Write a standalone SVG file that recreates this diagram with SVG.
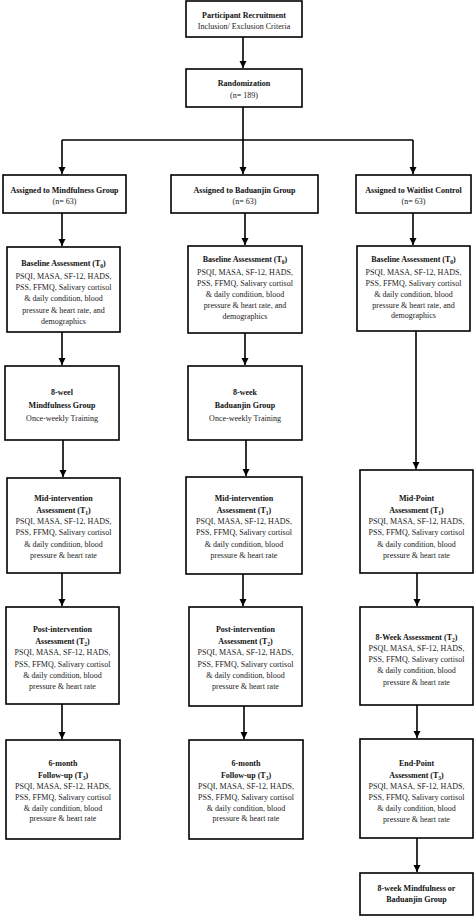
<svg xmlns="http://www.w3.org/2000/svg" width="474" height="917" viewBox="0 0 474 917">
<style>
.bx{fill:#fff;stroke:#000;stroke-width:1.6}
text{font-family:"Liberation Serif","Times New Roman",serif;font-size:8px;fill:#222;text-anchor:middle}
.h{font-weight:bold;fill:#111}
.ln{stroke:#000;stroke-width:1.6;fill:none}
.sub{font-size:5.5px}
</style>
<defs>
<marker id="ah" markerUnits="userSpaceOnUse" markerWidth="8" markerHeight="8" refX="7" refY="4" orient="auto">
<path d="M0,0.5 L7,4 L0,7.5 z" fill="#000"/>
</marker>
</defs>
<rect width="474" height="917" fill="#fff"/>
<g id="connectors">
<line class="ln" x1="243" y1="37" x2="243" y2="68" marker-end="url(#ah)"/>
<polyline class="ln" points="243,107 243,140"/>
<line class="ln" x1="62" y1="140" x2="413" y2="140"/>
<line class="ln" x1="62" y1="140" x2="62" y2="174" marker-end="url(#ah)"/>
<line class="ln" x1="243" y1="140" x2="243" y2="174" marker-end="url(#ah)"/>
<line class="ln" x1="413" y1="140" x2="413" y2="174" marker-end="url(#ah)"/>
<line class="ln" x1="62" y1="213" x2="62" y2="246" marker-end="url(#ah)"/>
<line class="ln" x1="245" y1="213" x2="245" y2="245" marker-end="url(#ah)"/>
<line class="ln" x1="413" y1="213" x2="413" y2="245" marker-end="url(#ah)"/>
<line class="ln" x1="62" y1="332" x2="62" y2="365" marker-end="url(#ah)"/>
<line class="ln" x1="245" y1="333" x2="245" y2="365" marker-end="url(#ah)"/>
<line class="ln" x1="416" y1="331" x2="416" y2="469" marker-end="url(#ah)"/>
<line class="ln" x1="63" y1="440" x2="63" y2="477" marker-end="url(#ah)"/>
<line class="ln" x1="246" y1="440" x2="246" y2="476" marker-end="url(#ah)"/>
<line class="ln" x1="62" y1="573" x2="62" y2="606" marker-end="url(#ah)"/>
<line class="ln" x1="243" y1="574" x2="243" y2="606" marker-end="url(#ah)"/>
<line class="ln" x1="417" y1="573" x2="417" y2="606" marker-end="url(#ah)"/>
<line class="ln" x1="62" y1="704" x2="62" y2="739" marker-end="url(#ah)"/>
<line class="ln" x1="244" y1="706" x2="244" y2="739" marker-end="url(#ah)"/>
<line class="ln" x1="417" y1="705" x2="417" y2="738" marker-end="url(#ah)"/>
<line class="ln" x1="417" y1="838" x2="417" y2="872" marker-end="url(#ah)"/>
</g>
<g id="recruitment">
<rect class="bx" x="186" y="1" width="116" height="36"/>
<text class="h" x="244" y="18">Participant Recruitment</text>
<text x="244" y="29">Inclusion/ Exclusion Criteria</text>
</g>
<g id="randomization">
<rect class="bx" x="186" y="69" width="116" height="38"/>
<text class="h" x="244" y="86">Randomization</text>
<text x="244" y="98">(n= 189)</text>
</g>
<g id="assign-mindfulness">
<rect class="bx" x="3" y="175" width="123" height="38"/>
<text class="h" x="64.5" y="193">Assigned to Mindfulness Group</text>
<text x="64.5" y="204">(n= 63)</text>
</g>
<g id="assign-baduanjin">
<rect class="bx" x="171" y="175" width="147" height="38"/>
<text class="h" x="244.5" y="193">Assigned to Baduanjin Group</text>
<text x="244.5" y="204">(n= 63)</text>
</g>
<g id="assign-waitlist">
<rect class="bx" x="356" y="175" width="115" height="38"/>
<text class="h" x="413.5" y="193">Assigned to Waitlist Control</text>
<text x="413.5" y="204">(n= 63)</text>
</g>
<g id="baseline-mindfulness">
<rect class="bx" x="7" y="247" width="113" height="85"/>
<text class="h" x="63.5" y="266">Baseline Assessment (T<tspan class="sub" dy="1.5">0</tspan><tspan dy="-1.5">)</tspan></text>
<text x="63.5" y="279">PSQI, MASA, SF-12, HADS,</text>
<text x="63.5" y="290">PSS, FFMQ, Salivary cortisol</text>
<text x="63.5" y="301">&amp; daily condition, blood</text>
<text x="63.5" y="313">pressure &amp; heart rate, and</text>
<text x="63.5" y="324">demographics</text>
</g>
<g id="baseline-baduanjin">
<rect class="bx" x="188" y="246" width="114" height="87"/>
<text class="h" x="245" y="262">Baseline Assessment (T<tspan class="sub" dy="1.5">0</tspan><tspan dy="-1.5">)</tspan></text>
<text x="245" y="275">PSQI, MASA, SF-12, HADS,</text>
<text x="245" y="286">PSS, FFMQ, Salivary cortisol</text>
<text x="245" y="297">&amp; daily condition, blood</text>
<text x="245" y="308">pressure &amp; heart rate, and</text>
<text x="245" y="319">demographics</text>
</g>
<g id="baseline-waitlist">
<rect class="bx" x="357" y="246" width="113" height="85"/>
<text class="h" x="413.5" y="262">Baseline Assessment (T<tspan class="sub" dy="1.5">0</tspan><tspan dy="-1.5">)</tspan></text>
<text x="413.5" y="275">PSQI, MASA, SF-12, HADS,</text>
<text x="413.5" y="286">PSS, FFMQ, Salivary cortisol</text>
<text x="413.5" y="297">&amp; daily condition, blood</text>
<text x="413.5" y="308">pressure &amp; heart rate, and</text>
<text x="413.5" y="318">demographics</text>
</g>
<g id="training-mindfulness">
<rect class="bx" x="5" y="366" width="114" height="74"/>
<text class="h" x="62" y="395">8-weel</text>
<text class="h" x="62" y="408">Mindfulness Group</text>
<text x="62" y="421">Once-weekly Training</text>
</g>
<g id="training-baduanjin">
<rect class="bx" x="188" y="366" width="114" height="74"/>
<text class="h" x="245" y="395">8-week</text>
<text class="h" x="245" y="408">Baduanjin Group</text>
<text x="245" y="421">Once-weekly Training</text>
</g>
<g id="mid-mindfulness">
<rect class="bx" x="7" y="478" width="113" height="95"/>
<text class="h" x="63.5" y="501">Mid-intervention</text>
<text class="h" x="63.5" y="513">Assessment (T<tspan class="sub" dy="1.5">1</tspan><tspan dy="-1.5">)</tspan></text>
<text x="63.5" y="524">PSQI, MASA, SF-12, HADS,</text>
<text x="63.5" y="535">PSS, FFMQ, Salivary cortisol</text>
<text x="63.5" y="547">&amp; daily condition, blood</text>
<text x="63.5" y="558">pressure &amp; heart rate</text>
</g>
<g id="mid-baduanjin">
<rect class="bx" x="186" y="477" width="116" height="97"/>
<text class="h" x="244" y="501">Mid-intervention</text>
<text class="h" x="244" y="513">Assessment (T<tspan class="sub" dy="1.5">1</tspan><tspan dy="-1.5">)</tspan></text>
<text x="244" y="524">PSQI, MASA, SF-12, HADS,</text>
<text x="244" y="535">PSS, FFMQ, Salivary cortisol</text>
<text x="244" y="547">&amp; daily condition, blood</text>
<text x="244" y="558">pressure &amp; heart rate</text>
</g>
<g id="mid-waitlist">
<rect class="bx" x="360" y="470" width="113" height="103"/>
<text class="h" x="416.5" y="501">Mid-Point</text>
<text class="h" x="416.5" y="513">Assessment (T<tspan class="sub" dy="1.5">1</tspan><tspan dy="-1.5">)</tspan></text>
<text x="416.5" y="524">PSQI, MASA, SF-12, HADS,</text>
<text x="416.5" y="535">PSS, FFMQ, Salivary cortisol</text>
<text x="416.5" y="547">&amp; daily condition, blood</text>
<text x="416.5" y="558">pressure &amp; heart rate</text>
</g>
<g id="post-mindfulness">
<rect class="bx" x="6" y="607" width="113" height="97"/>
<text class="h" x="62.5" y="632">Post-intervention</text>
<text class="h" x="62.5" y="644">Assessment (T<tspan class="sub" dy="1.5">2</tspan><tspan dy="-1.5">)</tspan></text>
<text x="62.5" y="655">PSQI, MASA, SF-12, HADS,</text>
<text x="62.5" y="667">PSS, FFMQ, Salivary cortisol</text>
<text x="62.5" y="678">&amp; daily condition, blood</text>
<text x="62.5" y="689">pressure &amp; heart rate</text>
</g>
<g id="post-baduanjin">
<rect class="bx" x="189" y="607" width="113" height="99"/>
<text class="h" x="245.5" y="632">Post-intervention</text>
<text class="h" x="245.5" y="644">Assessment (T<tspan class="sub" dy="1.5">2</tspan><tspan dy="-1.5">)</tspan></text>
<text x="245.5" y="655">PSQI, MASA, SF-12, HADS,</text>
<text x="245.5" y="667">PSS, FFMQ, Salivary cortisol</text>
<text x="245.5" y="678">&amp; daily condition, blood</text>
<text x="245.5" y="689">pressure &amp; heart rate</text>
</g>
<g id="week8-waitlist">
<rect class="bx" x="360" y="607" width="113" height="98"/>
<text class="h" x="416.5" y="640">8-Week Assessment (T<tspan class="sub" dy="1.5">2</tspan><tspan dy="-1.5">)</tspan></text>
<text x="416.5" y="651">PSQI, MASA, SF-12, HADS,</text>
<text x="416.5" y="662">PSS, FFMQ, Salivary cortisol</text>
<text x="416.5" y="673">&amp; daily condition, blood</text>
<text x="416.5" y="685">pressure &amp; heart rate</text>
</g>
<g id="followup-mindfulness">
<rect class="bx" x="6" y="740" width="114" height="99"/>
<text class="h" x="63" y="766">6-month</text>
<text class="h" x="63" y="778">Follow-up (T<tspan class="sub" dy="1.5">3</tspan><tspan dy="-1.5">)</tspan></text>
<text x="63" y="789">PSQI, MASA, SF-12, HADS,</text>
<text x="63" y="800">PSS, FFMQ, Salivary cortisol</text>
<text x="63" y="811">&amp; daily condition, blood</text>
<text x="63" y="821">pressure &amp; heart rate</text>
</g>
<g id="followup-baduanjin">
<rect class="bx" x="189" y="740" width="114" height="99"/>
<text class="h" x="246" y="766">6-month</text>
<text class="h" x="246" y="778">Follow-up (T<tspan class="sub" dy="1.5">3</tspan><tspan dy="-1.5">)</tspan></text>
<text x="246" y="789">PSQI, MASA, SF-12, HADS,</text>
<text x="246" y="800">PSS, FFMQ, Salivary cortisol</text>
<text x="246" y="811">&amp; daily condition, blood</text>
<text x="246" y="821">pressure &amp; heart rate</text>
</g>
<g id="endpoint-waitlist">
<rect class="bx" x="360" y="739" width="113" height="99"/>
<text class="h" x="416.5" y="766">End-Point</text>
<text class="h" x="416.5" y="778">Assessment (T<tspan class="sub" dy="1.5">3</tspan><tspan dy="-1.5">)</tspan></text>
<text x="416.5" y="789">PSQI, MASA, SF-12, HADS,</text>
<text x="416.5" y="800">PSS, FFMQ, Salivary cortisol</text>
<text x="416.5" y="811">&amp; daily condition, blood</text>
<text x="416.5" y="822">pressure &amp; heart rate</text>
</g>
<g id="final-waitlist">
<rect class="bx" x="360" y="873" width="113" height="42"/>
<text class="h" x="416.5" y="891">8-week Mindfulness or</text>
<text class="h" x="416.5" y="902">Baduanjin Group</text>
</g>
</svg>
